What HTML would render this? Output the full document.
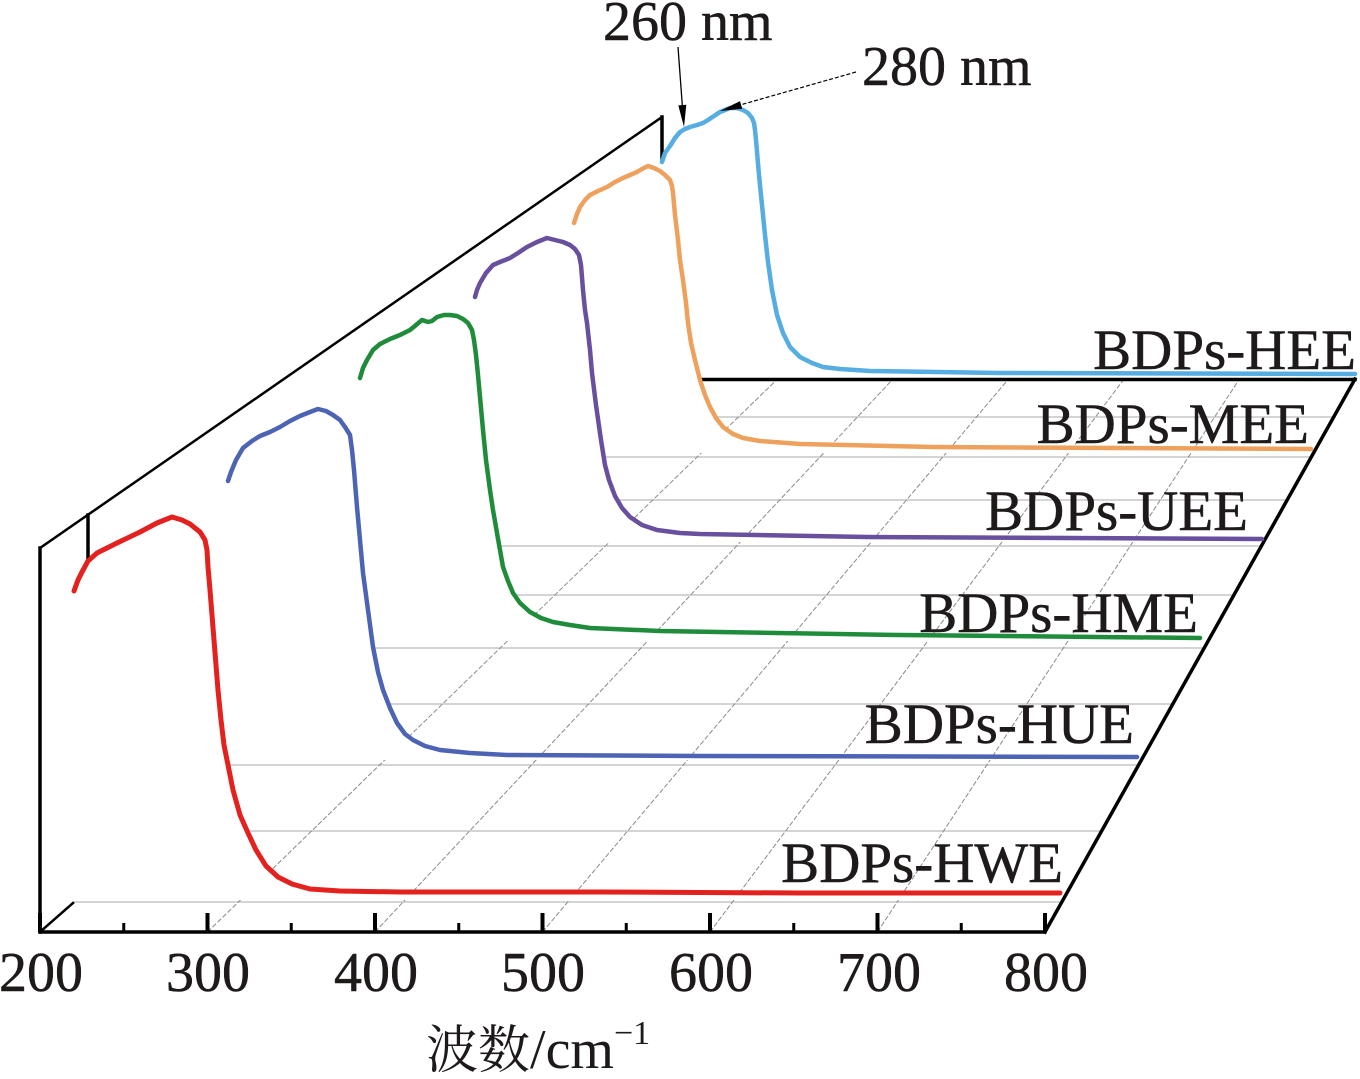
<!DOCTYPE html>
<html><head><meta charset="utf-8">
<style>
html,body{margin:0;padding:0;background:#fff;}
svg{display:block;}
text{font-family:"Liberation Serif","Noto Serif CJK SC",serif;fill:#1e1a1a;}
</style></head>
<body>
<svg width="1360" height="1079" viewBox="0 0 1360 1079" xmlns="http://www.w3.org/2000/svg">
<rect width="1360" height="1079" fill="#fff"/>
<!-- floor grid horizontal -->
<g stroke="#c6c6c6" stroke-width="1.4" fill="none">
<line x1="73.7" y1="902" x2="1061.8" y2="902"/>
<line x1="153.6" y1="831" x2="1101.6" y2="831"/>
<line x1="227.8" y1="765" x2="1138.6" y2="765"/>
<line x1="296.5" y1="704" x2="1172.8" y2="704"/>
<line x1="359.4" y1="648" x2="1204.2" y2="648"/>
<line x1="419.1" y1="595" x2="1233.9" y2="595"/>
<line x1="474.2" y1="546" x2="1261.4" y2="546"/>
<line x1="525.9" y1="500" x2="1287.2" y2="500"/>
<line x1="574.3" y1="457" x2="1311.3" y2="457"/>
<line x1="619.3" y1="417" x2="1333.7" y2="417"/>
</g>
<!-- floor grid diagonals -->
<g stroke="#8a8a8a" stroke-width="1" stroke-dasharray="5 2" fill="none">
<line x1="207.5" y1="932" x2="777.5" y2="379"/>
<line x1="375" y1="932" x2="893" y2="379"/>
<line x1="542.5" y1="932" x2="1008.5" y2="379"/>
<line x1="710" y1="932" x2="1124" y2="379"/>
<line x1="877.5" y1="932" x2="1239.5" y2="379"/>
</g>
<!-- frame lines -->
<g stroke="#000" fill="none" stroke-linecap="square">
<line x1="662" y1="379.5" x2="1355" y2="379.5" stroke-width="3.5"/>
<line x1="1045" y1="932" x2="1355" y2="379" stroke-width="3.5"/>
<line x1="40" y1="932" x2="73" y2="903" stroke-width="2.5"/>
<line x1="40" y1="548" x2="662" y2="117" stroke-width="2.5"/>
<line x1="40" y1="548" x2="40" y2="932" stroke-width="3.5"/>
<line x1="662" y1="117" x2="662" y2="379" stroke-width="3.5"/>
<line x1="88" y1="515" x2="88" y2="880" stroke-width="3.5"/>
</g>

<!-- series back to front -->
<g stroke-width="4.5" stroke-linejoin="round" stroke-linecap="round">
<!-- HEE light blue -->
<polygon fill="#fff" stroke="none" points="662,162 665,153 670,146 675,138 680,132 685,129 690,127 697,125 703,123 708,120 714,116 720,112 725,110 730,108 737,108 743,110 748,113 752,118 754,123 755,130 756,140 759,175 762,205 765,235 768,262 772,290 777,315 783,333 790,347 800,357 812,363 823,367 840,369 870,371 1000,373 1355,374 1355,377 660,377 660,162"/>
<polyline fill="none" stroke="#55ade2" points="662,162 665,153 670,146 675,138 680,132 685,129 690,127 697,125 703,123 708,120 714,116 720,112 725,110 730,108 737,108 743,110 748,113 752,118 754,123 755,130 756,140 759,175 762,205 765,235 768,262 772,290 777,315 783,333 790,347 800,357 812,363 823,367 840,369 870,371 1000,373 1355,374"/>
<!-- MEE orange -->
<polygon fill="#fff" stroke="none" points="574,223 577,214 580,207 585,200 590,195 598,191 607,187 615,182 623,178 630,175 637,172 642,169 648,166 654,168 660,171 665,175 670,180 672,186 673,193 675,215 678,240 680,260 683,280 686,303 688,323 691,343 695,360 700,380 705,395 710,407 716,418 723,427 733,434 743,438 760,441 800,444 933,447 1311,449 1311,453 573,453"/>
<polyline fill="none" stroke="#eea15c" points="574,223 577,214 580,207 585,200 590,195 598,191 607,187 615,182 623,178 630,175 637,172 642,169 648,166 654,168 660,171 665,175 670,180 672,186 673,193 675,215 678,240 680,260 683,280 686,303 688,323 691,343 695,360 700,380 705,395 710,407 716,418 723,427 733,434 743,438 760,441 800,444 933,447 1311,449"/>
<!-- UEE purple -->
<polygon fill="#fff" stroke="none" points="475,297 477,290 480,283 486,273 493,265 500,262 510,258 518,253 527,247 537,242 547,238 555,240 563,242 570,245 575,249 579,255 581,265 583,290 585,310 587,323 590,350 592,373 596,405 601,440 605,465 609,480 615,496 622,508 630,517 642,525 657,530 680,533 700,534 867,537 1262,539 1262,542 474,542"/>
<polyline fill="none" stroke="#68509e" points="475,297 477,290 480,283 486,273 493,265 500,262 510,258 518,253 527,247 537,242 547,238 555,240 563,242 570,245 575,249 579,255 581,265 583,290 585,310 587,323 590,350 592,373 596,405 601,440 605,465 609,480 615,496 622,508 630,517 642,525 657,530 680,533 700,534 867,537 1262,539"/>
<!-- HME green -->
<polygon fill="#fff" stroke="none" points="360,378 363,368 367,360 373,350 380,344 390,339 400,335 410,330 416,325 422,320 428,322 432,321 437,317 444,315 450,315 457,316 463,319 468,323 472,330 474,340 476,355 478,375 480,397 483,430 486,460 490,490 493,510 497,533 500,550 503,567 508,581 513,593 520,603 530,612 541,618 553,622 570,625 590,628 660,631 900,635 1200,638 1200,641 359,641"/>
<polyline fill="none" stroke="#1f8c3b" points="360,378 363,368 367,360 373,350 380,344 390,339 400,335 410,330 416,325 422,320 428,322 432,321 437,317 444,315 450,315 457,316 463,319 468,323 472,330 474,340 476,355 478,375 480,397 483,430 486,460 490,490 493,510 497,533 500,550 503,567 508,581 513,593 520,603 530,612 541,618 553,622 570,625 590,628 660,631 900,635 1200,638"/>
<!-- HUE blue -->
<polygon fill="#fff" stroke="none" points="228,481 231,472 236,460 243,448 252,441 260,436 270,432 280,427 290,421 300,416 310,412 318,409 326,411 333,415 340,420 345,427 350,435 352,450 354,470 357,507 360,540 363,573 368,610 373,647 378,672 383,690 390,708 397,723 405,734 413,740 425,746 440,750 470,753 507,755 700,756 1137,757 1137,760 227,760"/>
<polyline fill="none" stroke="#4d64b4" points="228,481 231,472 236,460 243,448 252,441 260,436 270,432 280,427 290,421 300,416 310,412 318,409 326,411 333,415 340,420 345,427 350,435 352,450 354,470 357,507 360,540 363,573 368,610 373,647 378,672 383,690 390,708 397,723 405,734 413,740 425,746 440,750 470,753 507,755 700,756 1137,757"/>
<!-- HWE red -->
<polygon fill="#fff" stroke="none" points="74,591 78,580 82,572 88,561 97,553 117,543 140,532 157,523 172,517 182,520 190,524 200,532 205,540 207,550 208,567 210,590 214,640 218,690 221,720 224,745 228,765 233,790 240,815 248,833 256,850 266,866 278,877 292,884 310,889 340,891 400,892 600,892 800,893 1060,893 1060,900 73,900"/>
<polyline fill="none" stroke="#e3211f" stroke-width="5" points="74,591 78,580 82,572 88,561 97,553 117,543 140,532 157,523 172,517 182,520 190,524 200,532 205,540 207,550 208,567 210,590 214,640 218,690 221,720 224,745 228,765 233,790 240,815 248,833 256,850 266,866 278,877 292,884 310,889 340,891 400,892 600,892 800,893 1060,893"/>
</g>

<!-- front axis and ticks -->
<g stroke="#000" fill="none">
<line x1="38.5" y1="932" x2="1046.5" y2="932" stroke-width="3.5"/>
<g stroke-width="4">
<line x1="40" y1="932" x2="40" y2="913"/>
<line x1="207.5" y1="932" x2="207.5" y2="913"/>
<line x1="375" y1="932" x2="375" y2="913"/>
<line x1="542.5" y1="932" x2="542.5" y2="913"/>
<line x1="710" y1="932" x2="710" y2="913"/>
<line x1="877.5" y1="932" x2="877.5" y2="913"/>
<line x1="1045" y1="932" x2="1045" y2="913"/>
</g>
<g stroke-width="3">
<line x1="123.75" y1="932" x2="123.75" y2="923"/>
<line x1="291.25" y1="932" x2="291.25" y2="923"/>
<line x1="458.75" y1="932" x2="458.75" y2="923"/>
<line x1="626.25" y1="932" x2="626.25" y2="923"/>
<line x1="793.75" y1="932" x2="793.75" y2="923"/>
<line x1="961.25" y1="932" x2="961.25" y2="923"/>
</g>
</g>

<!-- tick labels -->
<g font-size="56" text-anchor="middle" stroke="#1e1a1a" stroke-width="0.5">
<text x="41" y="991">200</text>
<text x="208" y="991">300</text>
<text x="376" y="991">400</text>
<text x="543" y="991">500</text>
<text x="711" y="991">600</text>
<text x="879" y="991">700</text>
<text x="1046" y="991">800</text>
</g>

<!-- axis title -->
<text x="426" y="1068" font-size="54"><tspan font-family="'Noto Serif CJK SC','Noto Sans CJK SC',serif" font-size="52">波数</tspan><tspan font-size="56">/cm</tspan><tspan dy="-24" font-size="34">−1</tspan></text>

<!-- series labels -->
<g font-size="57" text-anchor="end" stroke="#1e1a1a" stroke-width="0.5">
<text x="1063" y="882">BDPs-HWE</text>
<text x="1134" y="743">BDPs-HUE</text>
<text x="1198" y="632">BDPs-HME</text>
<text x="1248" y="530">BDPs-UEE</text>
<text x="1309" y="443">BDPs-MEE</text>
<text x="1356" y="369">BDPs-HEE</text>
</g>

<!-- annotations -->
<text x="603" y="40" font-size="56" stroke="#1e1a1a" stroke-width="0.5">260 nm</text>
<text x="862" y="85" font-size="56" stroke="#1e1a1a" stroke-width="0.5">280 nm</text>
<line x1="678" y1="47" x2="682.5" y2="108" stroke="#000" stroke-width="1.3"/>
<polygon points="684,127 686.3,104.8 678.3,105.4" fill="#000"/>
<line x1="856" y1="72" x2="740" y2="105" stroke="#000" stroke-width="1.2" stroke-dasharray="4 2"/>
<polygon points="720,111 742.2,108.7 740,101.1" fill="#000"/>
</svg>
</body></html>
